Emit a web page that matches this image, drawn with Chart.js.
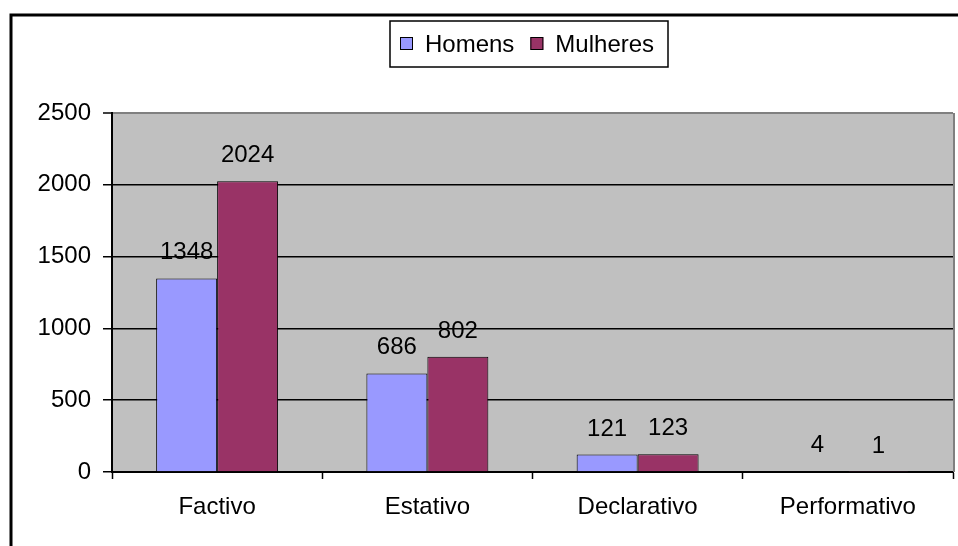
<!DOCTYPE html>
<html>
<head>
<meta charset="utf-8">
<script src="https://cdn.jsdelivr.net/npm/chart.js@4"></script>
<style>
html,body{margin:0;padding:0;background:#fff;}
#wrap{width:958px;height:546px;position:relative;}
</style>
</head>
<body>
<div id="wrap"><canvas id="c" width="958" height="546"></canvas></div>
<script>
const categories = ["Factivo", "Estativo", "Declarativo", "Performativo"];
const seriesNames = ["Homens", "Mulheres"];
const homens = [1348, 686, 121, 4];
const mulheres = [2024, 802, 123, 1];
const yTicks = [0, 500, 1000, 1500, 2000, 2500];

const FONT = '"Liberation Sans", Arial, sans-serif';
const colors = ["#9999FF", "#993366"];

const framePlugin = {
  id: 'frame',
  beforeDraw(chart) {
    const ctx = chart.ctx, a = chart.chartArea;
    ctx.save();
    ctx.fillStyle = '#fff';
    ctx.fillRect(0, 0, chart.width, chart.height);
    ctx.strokeStyle = '#000';
    ctx.lineWidth = 3;
    ctx.beginPath();
    ctx.moveTo(11, chart.height + 5);
    ctx.lineTo(11, 15);
    ctx.lineTo(chart.width + 5, 15);
    ctx.stroke();
    ctx.fillStyle = '#C0C0C0';
    ctx.fillRect(a.left, a.top, a.right - a.left, a.bottom - a.top);
    ctx.restore();
  },
  afterDatasetsDraw(chart) {
    const ctx = chart.ctx, a = chart.chartArea;
    ctx.save();
    ctx.strokeStyle = '#808080';
    ctx.lineWidth = 2;
    ctx.beginPath();
    ctx.moveTo(a.right + 1, a.top);
    ctx.lineTo(a.right + 1, a.bottom);
    ctx.stroke();
    ctx.fillStyle = '#000';
    ctx.font = '24px ' + FONT;
    ctx.textAlign = 'center';
    ctx.textBaseline = 'alphabetic';
    chart.data.datasets.forEach((ds, di) => {
      chart.getDatasetMeta(di).data.forEach((bar, i) => {
        ctx.fillText(String(ds.data[i]), bar.x, bar.y - 19);
      });
    });
    const bx = 390, by = 21, bw = 278, bh = 46;
    ctx.fillStyle = '#fff';
    ctx.fillRect(bx, by, bw, bh);
    ctx.strokeStyle = '#000';
    ctx.lineWidth = 1.5;
    ctx.strokeRect(bx, by, bw, bh);
    let x = 400;
    const cy = by + bh / 2;
    ctx.textAlign = 'left';
    ctx.textBaseline = 'middle';
    chart.data.datasets.forEach((ds) => {
      ctx.fillStyle = ds.backgroundColor;
      ctx.fillRect(x, cy - 7, 13, 13);
      ctx.strokeStyle = '#000';
      ctx.lineWidth = 1;
      ctx.strokeRect(x + 0.5, cy - 6.5, 12, 12);
      ctx.fillStyle = '#000';
      ctx.fillText(ds.label, x + 25, cy + 1);
      x += 25 + ctx.measureText(ds.label).width + 16;
    });
    ctx.restore();
  }
};

new Chart(document.getElementById('c'), {
  type: 'bar',
  data: {
    labels: categories,
    datasets: [
      { label: seriesNames[0], data: homens, backgroundColor: colors[0], borderColor: '#000', borderWidth: 1 },
      { label: seriesNames[1], data: mulheres, backgroundColor: colors[1], borderColor: '#000', borderWidth: 1 }
    ]
  },
  options: {
    responsive: false,
    animation: false,
    devicePixelRatio: 1,
    categoryPercentage: 0.58,
    barPercentage: 1.0,
    layout: { padding: { top: 113, right: 5, left: 0, bottom: 0 } },
    plugins: { legend: { display: false }, tooltip: { enabled: false } },
    scales: {
      x: {
        grid: { offset: true, drawOnChartArea: false, drawTicks: true, tickLength: 7, tickColor: '#000', tickWidth: 1.5 },
        border: { color: '#000', width: 2 },
        ticks: { color: '#000', font: { family: FONT, size: 24 }, padding: 14, maxRotation: 0 },
        afterFit(scale) { scale.height = 74; }
      },
      y: {
        min: 0, max: 2500,
        afterBuildTicks(scale) { scale.ticks = yTicks.map(v => ({ value: v })); },
        grid: {
          color: (c) => (c.tick && c.tick.value === 2500) ? '#808080' : '#000',
          lineWidth: (c) => (c.tick && c.tick.value === 2500) ? 2 : 1.5,
          tickColor: '#000', tickLength: 9, tickWidth: 1.5
        },
        border: { color: '#000', width: 2 },
        ticks: { color: '#000', font: { family: FONT, size: 24 }, padding: 12, callback: (v) => String(v) },
        afterFit(scale) { scale.width = 112; }
      }
    }
  },
  plugins: [framePlugin]
});
</script>
</body>
</html>
